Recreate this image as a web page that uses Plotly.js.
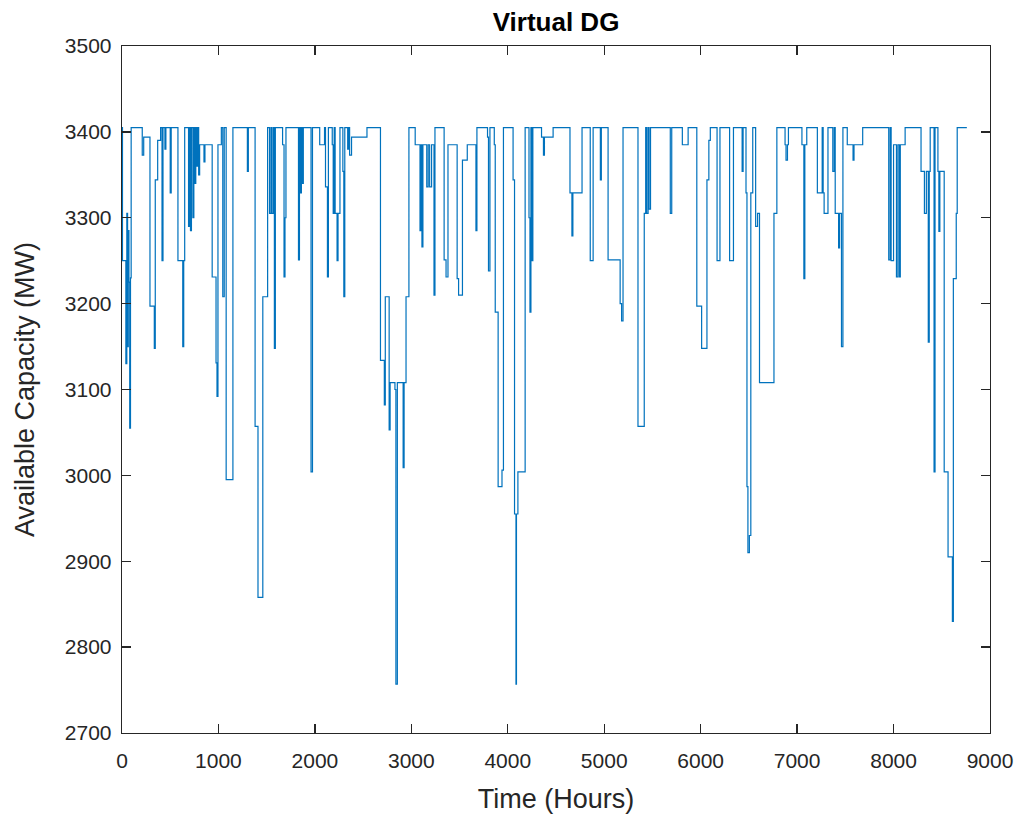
<!DOCTYPE html>
<html>
<head>
<meta charset="utf-8">
<script src="https://cdn.plot.ly/plotly-3.0.1.min.js"></script>
<style>html,body{margin:0;padding:0;background:#fff;}#chart{width:1024px;height:822px;}</style>
</head>
<body>
<div id="chart"></div>
<script>
// Step points: hour at which the available capacity changes, and the new value (MW)
const hours = [0,5,40,50,58,65,72,80,88,95,210,225,290,335,345,370,400,415,425,445,455,500,510,580,630,640,650,690,700,710,720,735,745,755,765,775,785,795,805,850,860,935,975,985,995,1030,1045,1060,1080,1150,1300,1310,1380,1410,1460,1510,1530,1545,1555,1570,1580,1590,1665,1680,1690,1700,1830,1840,1850,1860,1870,1880,1960,1975,2050,2100,2110,2130,2140,2180,2190,2200,2210,2230,2240,2260,2290,2300,2310,2340,2350,2360,2380,2540,2680,2720,2730,2770,2780,2830,2840,2855,2915,2925,2945,2975,3040,3090,3100,3110,3120,3160,3175,3190,3210,3235,3245,3340,3360,3380,3475,3490,3530,3580,3670,3680,3790,3800,3815,3860,3870,3900,3940,3955,4055,4070,4085,4090,4105,4180,4220,4230,4240,4250,4260,4350,4370,4380,4470,4645,4665,4675,4770,4855,4885,4960,4970,5040,5165,5180,5195,5350,5415,5430,5440,5455,5465,5480,5685,5700,5810,5870,5960,6010,6065,6085,6100,6170,6200,6300,6340,6430,6440,6470,6480,6490,6505,6520,6540,6570,6590,6610,6760,6790,6875,6885,6900,6910,7050,7070,7080,7100,7210,7260,7270,7280,7320,7370,7385,7395,7430,7440,7460,7475,7520,7580,7590,7680,7950,7965,7975,8000,8030,8045,8060,8070,8120,8285,8320,8340,8360,8370,8380,8420,8430,8460,8470,8480,8525,8565,8610,8620,8650,8660,8760];
const capacity = [3405,3250,3130,3305,3150,3285,3225,3055,3230,3405,3373,3394,3197,3148,3344,3390,3405,3250,3405,3380,3405,3329,3405,3250,3150,3250,3405,3290,3405,3285,3405,3300,3405,3340,3405,3360,3405,3350,3385,3365,3385,3231,3131,3092,3385,3405,3208,3405,2995,3405,3354,3405,3057,2858,3208,3405,3305,3405,3305,3405,3148,3405,3385,3231,3300,3405,3251,3405,3329,3405,3340,3405,3004,3405,3385,3405,3336,3231,3405,3385,3305,3405,3305,3250,3305,3405,3354,3208,3405,3380,3405,3373,3394,3405,3134,3082,3208,3053,3108,3100,2757,3108,3009,3108,3208,3405,3385,3285,3385,3266,3385,3336,3385,3336,3385,3210,3405,3251,3231,3385,3229,3210,3367,3385,3285,3405,3394,3238,3405,3385,3190,2987,3006,3405,3344,2955,2757,2955,3004,3405,3300,3190,3405,3250,3405,3394,3373,3394,3405,3329,3279,3329,3405,3250,3405,3344,3405,3251,3200,3180,3405,3057,3305,3405,3305,3405,3310,3405,3305,3405,3385,3405,3197,3148,3344,3390,3405,3250,3405,3250,3405,3354,3405,3329,2987,2910,2930,3329,3405,3290,3305,3108,3305,3405,3385,3367,3385,3405,3385,3229,3385,3405,3329,3405,3329,3305,3405,3354,3405,3305,3265,3305,3150,3405,3385,3367,3385,3405,3251,3405,3250,3385,3231,3385,3231,3385,3405,3354,3305,3354,3155,3354,3405,3004,3405,3354,3284,3354,3004,2905,2830,3229,3305,3405,3405];

const xTicks = [0,1000,2000,3000,4000,5000,6000,7000,8000,9000];
const yTicks = [2700,2800,2900,3000,3100,3200,3300,3400,3500];

const axisColor = '#262626';
const fontFam = '"Liberation Sans", Arial, Helvetica, sans-serif';

const trace = {
  x: hours, y: capacity, type: 'scatter', mode: 'lines',
  line: {shape: 'hv', color: '#0072BD', width: 1.2},
  hoverinfo: 'x+y'
};

const layout = {
  width: 1024, height: 822,
  margin: {l: 122, r: 34, t: 46, b: 89},
  paper_bgcolor: '#ffffff', plot_bgcolor: '#ffffff',
  showlegend: false,
  title: {text: '<b>Virtual DG</b>', x: 0.543, xanchor: 'center', y: 0.973, yanchor: 'middle',
          font: {family: fontFam, size: 26, color: '#000000'}},
  xaxis: {
    range: [0, 9000], tickvals: xTicks, ticktext: xTicks.map(String),
    showline: true, mirror: 'ticks', linecolor: axisColor, linewidth: 1.3,
    ticks: 'inside', ticklen: 9, tickcolor: axisColor, tickwidth: 1.3,
    showgrid: false, zeroline: false, ticklabelstandoff: 8,
    tickfont: {family: fontFam, size: 21, color: axisColor},
    title: {text: 'Time (Hours)', font: {family: fontFam, size: 27, color: axisColor}, standoff: 18}
  },
  yaxis: {
    range: [2700, 3500], tickvals: yTicks, ticktext: yTicks.map(String),
    showline: true, mirror: 'ticks', linecolor: axisColor, linewidth: 1.3,
    ticks: 'inside', ticklen: 9, tickcolor: axisColor, tickwidth: 1.3,
    showgrid: false, zeroline: false, ticklabelstandoff: 5,
    tickfont: {family: fontFam, size: 21, color: axisColor},
    title: {text: 'Available Capacity (MW)', font: {family: fontFam, size: 27, color: axisColor}, standoff: 22}
  }
};

Plotly.newPlot('chart', [trace], layout, {displayModeBar: false, staticPlot: true});
</script>
</body>
</html>
